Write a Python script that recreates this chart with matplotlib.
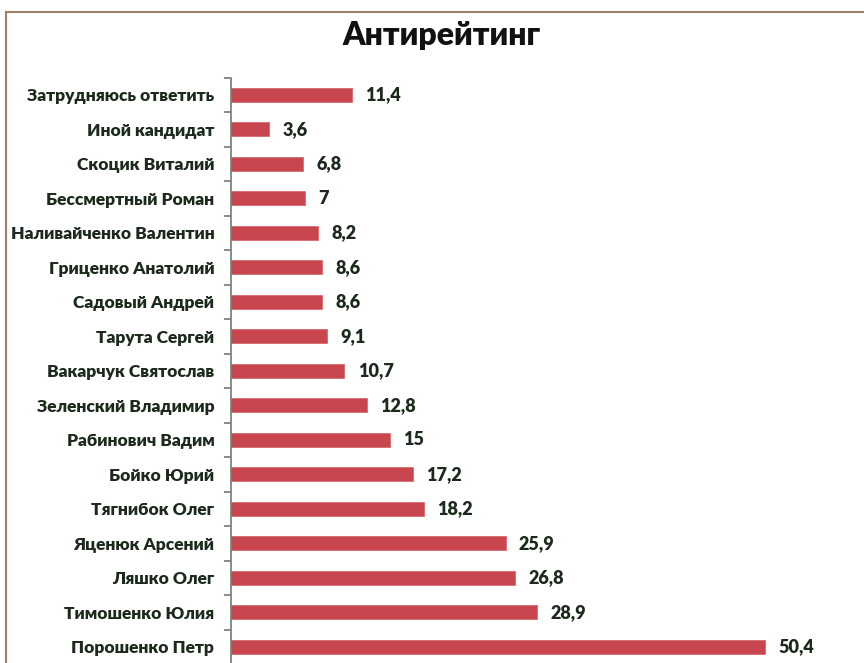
import numpy as np
import matplotlib.pyplot as plt
from matplotlib.lines import Line2D

# data, top to bottom as in the chart
names = ['Затрудняюсь ответить', 'Иной кандидат', 'Скоцик Виталий',
         'Бессмертный Роман', 'Наливайченко Валентин', 'Гриценко Анатолий',
         'Садовый Андрей', 'Тарута Сергей', 'Вакарчук Святослав',
         'Зеленский Владимир', 'Рабинович Вадим', 'Бойко Юрий',
         'Тягнибок Олег', 'Яценюк Арсений', 'Ляшко Олег',
         'Тимошенко Юлия', 'Порошенко Петр']
values = [11.4, 3.6, 6.8, 7, 8.2, 8.6, 8.6, 9.1, 10.7,
          12.8, 15, 17.2, 18.2, 25.9, 26.8, 28.9, 50.4]
labels = ['11,4', '3,6', '6,8', '7', '8,2', '8,6', '8,6', '9,1', '10,7',
          '12,8', '15', '17,2', '18,2', '25,9', '26,8', '28,9', '50,4']

plt.rcParams['font.family'] = ['Lato', 'DejaVu Sans']
txt_color = '#1c2a1c'
bar_color = '#c8474f'

W, H = 864, 663
fig = plt.figure(figsize=(W / 100, H / 100), dpi=100)

# axes placed by pixels: axis line at x=231, rows 34.5 px apart
x0 = 231
px_per_unit = 10.6
xmax = 59
ax_w = xmax * px_per_unit
top_px = 77.5
n = len(names)
ax_h = n * 34.5
ax = fig.add_axes([x0 / W, 1 - (top_px + ax_h) / H, ax_w / W, ax_h / H])

y = np.arange(n)
ax.barh(y, values, height=0.42, color=bar_color, edgecolor='#d66a70',
        linewidth=0.6)
ax.set_ylim(n - 0.5, -0.5)
ax.set_xlim(0, xmax)

for yi, v, lab in zip(y, values, labels):
    ax.text(v + 1.25, yi, lab, va='center', ha='left', fontsize=13,
            fontweight='heavy', color=txt_color)

for s in ['top', 'right', 'bottom']:
    ax.spines[s].set_visible(False)
ax.spines['left'].set_color('#6f7d6f')
ax.spines['left'].set_linewidth(1.2)
ax.set_xticks([])
ax.set_yticks(y)
ax.set_yticklabels(names, fontsize=12.5, fontweight='heavy', color=txt_color)
ax.tick_params(axis='y', length=0, pad=12)
ax.set_yticks(np.arange(-0.5, n, 1), minor=True)
ax.tick_params(axis='y', which='minor', length=5, width=1.2,
               color='#6f7d6f', direction='out')

fig.text(442 / W, 1 - 36 / H, 'Антирейтинг', ha='center', va='center',
         fontsize=23, fontweight='heavy', color='#111111')

# frame lines at top and left of the picture
fig.add_artist(Line2D([6 / W, 1], [1 - 12 / H, 1 - 12 / H],
                      transform=fig.transFigure, color='#a0806a', lw=1.5))
fig.add_artist(Line2D([6 / W, 6 / W], [0, 1 - 12 / H],
                      transform=fig.transFigure, color='#a0806a', lw=1.5))

fig.savefig('out.png', dpi=100)
